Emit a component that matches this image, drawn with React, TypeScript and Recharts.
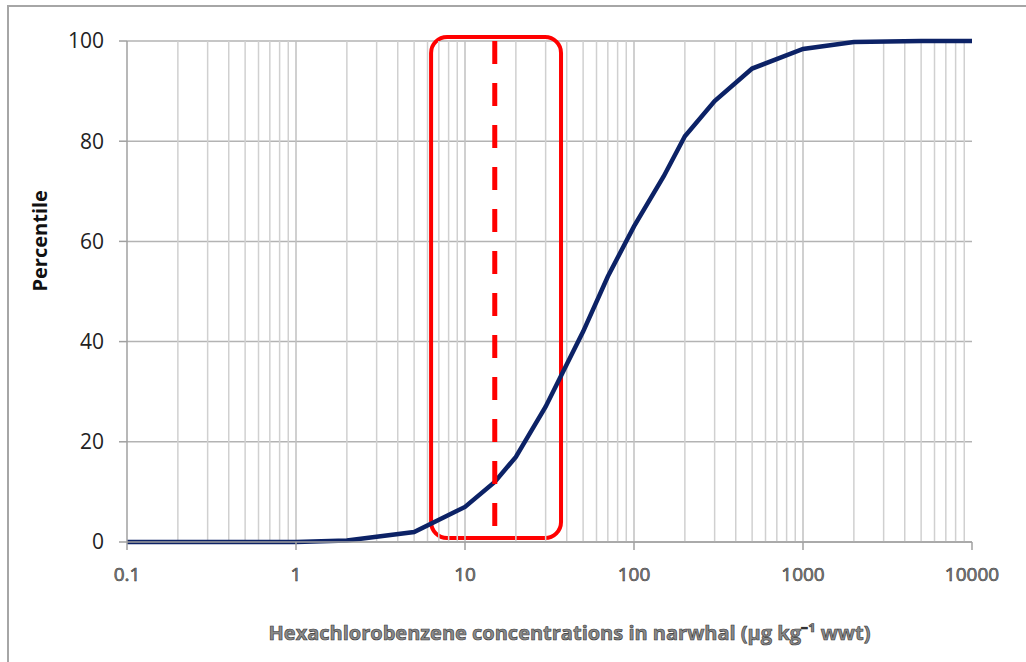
import { LineChart, Line, XAxis, YAxis, CartesianGrid, ReferenceLine, ReferenceArea } from "recharts";

const CONC = [0.1, 1, 2, 5, 10, 15, 20, 30, 50, 70, 100, 150, 200, 300, 500, 1000, 2000, 5000, 10000];
const PERCENTILE = [0, 0, 0.3, 2, 7, 12, 17, 27, 42, 53, 63, 73, 81, 88, 94.5, 98.4, 99.8, 100, 100];

const X_TICKS = [0.1, 1, 10, 100, 1000, 10000];
const Y_TICKS = [0, 20, 40, 60, 80, 100];
const MINOR_X = [
  0.2, 0.3, 0.4, 0.5, 0.6, 0.7, 0.8, 0.9,
  2, 3, 4, 5, 6, 7, 8, 9,
  20, 30, 40, 50, 60, 70, 80, 90,
  200, 300, 400, 500, 600, 700, 800, 900,
  2000, 3000, 4000, 5000, 6000, 7000, 8000, 9000,
];

const MARKER_X = 15;
const BOX_X = [6.3, 37];
const BOX_Y = [0.8, 100.8];

const data = CONC.map((c, i) => ({ conc: c, pct: PERCENTILE[i] }));

const font = "'Open Sans', 'Liberation Sans', sans-serif";

function XTick(props: any) {
  const { x, y, payload } = props;
  return (
    <text x={x} y={y + 29} textAnchor="middle" fontFamily={font} fontSize={19} fill="#8a8a8a" stroke="#333" strokeWidth={0.6}>
      {payload.value}
    </text>
  );
}

function RoundBox(props: any) {
  const { x, y, width, height } = props;
  return <rect x={x} y={y} width={width} height={height} rx={16} ry={16} fill="none" stroke="#ff0000" strokeWidth={4} />;
}

export default function App() {
  return (
    <div style={{ position: "absolute", left: 0, top: 0, width: 1026, height: 662, background: "#fff" }}>
      <div
        style={{
          position: "absolute",
          left: 7,
          top: 5,
          width: 1030,
          height: 656,
          borderTop: "2px solid #a6a6a6",
          borderLeft: "2px solid #a6a6a6",
        }}
      />
      <LineChart
        width={1026}
        height={662}
        data={data}
        margin={{ top: 41, right: 54, left: 57, bottom: 70 }}
        style={{ position: "absolute", left: 0, top: 0 }}
      >
        <CartesianGrid vertical={false} stroke="#b3b3b3" strokeWidth={1.5} />
        {MINOR_X.map((v) => (
          <ReferenceLine key={"m" + v} x={v} stroke="#d0d0d0" strokeWidth={1.5} />
        ))}
        {X_TICKS.slice(1, -1).map((v) => (
          <ReferenceLine key={"M" + v} x={v} stroke="#c0c0c0" strokeWidth={1.5} />
        ))}
        <XAxis
          dataKey="conc"
          type="number"
          scale="log"
          domain={[0.1, 10000]}
          ticks={X_TICKS}
          allowDataOverflow
          stroke="#a0a0a0"
          strokeWidth={1.5}
          tickSize={8}
          tick={<XTick />}
          height={50}
          label={{
            value: "Hexachlorobenzene concentrations in narwhal (µg kg⁻¹ wwt)",
            position: "insideBottom",
            offset: -48,
            dx: 20,
            fontFamily: font,
            fontSize: 20,
            fontWeight: 700,
            fill: "#8a8a8a",
            stroke: "#333",
            strokeWidth: 0.6,
          }}
        />
        <YAxis
          type="number"
          domain={[0, 100]}
          ticks={Y_TICKS}
          width={70}
          stroke="#a0a0a0"
          strokeWidth={1.5}
          tickSize={8}
          tickMargin={15}
          tick={{ fontFamily: font, fontSize: 21, fill: "#222" }}
          label={{
            value: "Percentile",
            angle: -90,
            position: "insideLeft",
            dx: -22,
            fontFamily: font,
            fontSize: 20,
            fontWeight: 700,
            fill: "#111",
          }}
        />
        <Line
          type="linear"
          dataKey="pct"
          stroke="#0c2266"
          strokeWidth={4.5}
          dot={false}
          isAnimationActive={false}
        />
        <ReferenceArea
          x1={BOX_X[0]}
          x2={BOX_X[1]}
          y1={BOX_Y[0]}
          y2={BOX_Y[1]}
          ifOverflow="visible"
          shape={<RoundBox />}
        />
        <ReferenceLine
          segment={[
            { x: MARKER_X, y: 100 },
            { x: MARKER_X, y: 2.8 },
          ]}
          stroke="#ff0000"
          strokeWidth={5}
          strokeDasharray="23 19"
        />
      </LineChart>
    </div>
  );
}
